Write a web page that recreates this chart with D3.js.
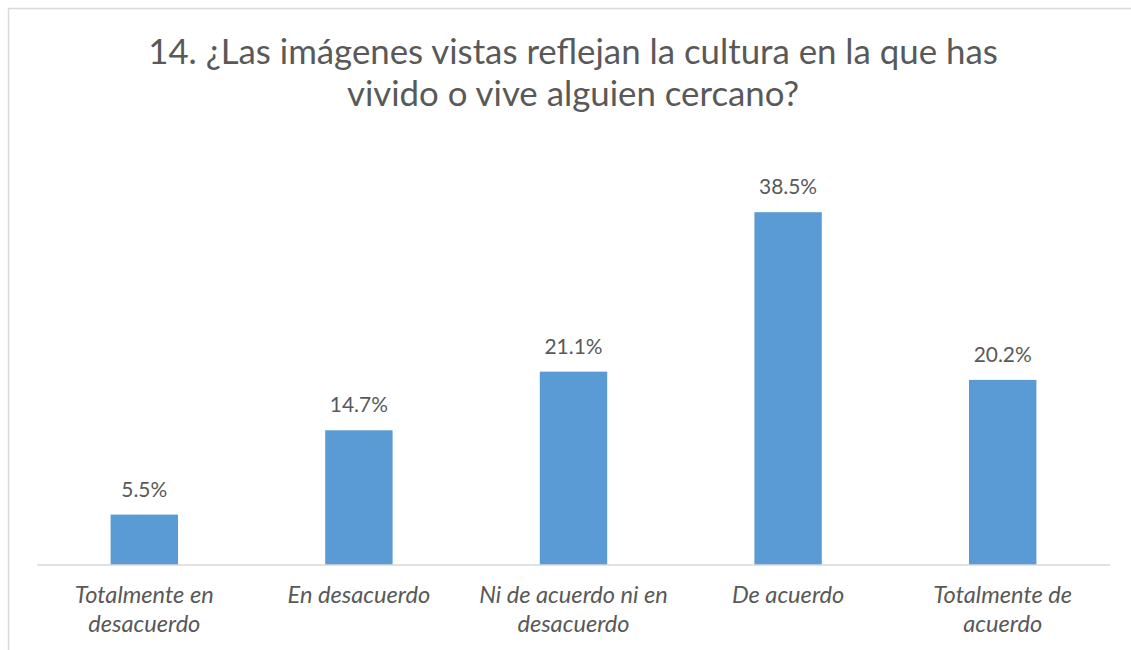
<!DOCTYPE html>
<html>
<head>
<meta charset="utf-8">
<script src="https://cdn.jsdelivr.net/npm/d3@7"></script>
<style>
  body { margin: 0; background: #fff; }
  #chart { width: 1131px; height: 650px; }
</style>
</head>
<body>
<div id="chart"></div>
<script>
const categories = [
  ["Totalmente en", "desacuerdo"],
  ["En desacuerdo"],
  ["Ni de acuerdo ni en", "desacuerdo"],
  ["De acuerdo"],
  ["Totalmente de", "acuerdo"]
];
const values = [5.5, 14.7, 21.1, 38.5, 20.2];
const titleLines = [
  "14. ¿Las imágenes vistas reflejan la cultura en la que has",
  "vivido o vive alguien cercano?"
];

const width = 1131;
const height = 650;
const textColor = "#595959";
const font = "Lato, 'Open Sans', sans-serif";

const svg = d3
  .select("#chart")
  .append("svg")
  .attr("width", width)
  .attr("height", height);

// chart border (only top and left visible in the crop)
svg
  .append("rect")
  .attr("x", 8.5)
  .attr("y", 8.5)
  .attr("width", width + 10)
  .attr("height", height + 10)
  .attr("fill", "#fff")
  .attr("stroke", "#d9d9d9")
  .attr("stroke-width", 1.5);

// fit a text element to a target width
function fitWidth(sel, target) {
  const w = sel.node().getComputedTextLength();
  const size = parseFloat(sel.attr("font-size"));
  sel.attr("font-size", (size * target) / w);
  return (size * target) / w;
}

// title
const title = svg
  .append("text")
  .attr("text-anchor", "middle")
  .attr("fill", textColor)
  .attr("font-family", font)
  .attr("font-size", 34);
titleLines.forEach((t, i) => {
  title
    .append("tspan")
    .attr("x", 573)
    .attr("y", 64 + i * 42)
    .text(t);
});
{
  const first = title.select("tspan").node().getComputedTextLength();
  title.attr("font-size", (34 * 850) / first);
}

const x = d3
  .scaleBand()
  .domain(d3.range(categories.length))
  .range([37, 1110])
  .paddingInner(0.686)
  .paddingOuter(0.343);

const y = d3.scaleLinear().domain([0, 45]).range([565, 152.6]);

// bars
svg
  .append("g")
  .selectAll("rect")
  .data(values)
  .enter()
  .append("rect")
  .attr("x", (d, i) => x(i))
  .attr("y", (d) => y(d))
  .attr("width", x.bandwidth())
  .attr("height", (d) => y(0) - y(d))
  .attr("fill", "#5b9bd5");

// axis line
svg
  .append("line")
  .attr("x1", 37)
  .attr("x2", 1110)
  .attr("y1", y(0))
  .attr("y2", y(0))
  .attr("stroke", "#d9d9d9")
  .attr("stroke-width", 1.5);

// value labels
const labels = svg
  .append("g")
  .selectAll("text")
  .data(values)
  .enter()
  .append("text")
  .attr("x", (d, i) => x(i) + x.bandwidth() / 2)
  .attr("y", (d) => y(d) - 18)
  .attr("text-anchor", "middle")
  .attr("fill", textColor)
  .attr("font-family", font)
  .attr("font-size", 20)
  .text((d) => d.toFixed(1) + "%");
const valSize = fitWidth(d3.select(labels.nodes()[0]), 46);
labels.attr("font-size", valSize);

// category labels
const cats = svg
  .append("g")
  .selectAll("text")
  .data(categories)
  .enter()
  .append("text")
  .attr("text-anchor", "middle")
  .attr("fill", textColor)
  .attr("font-family", font)
  .attr("font-style", "italic")
  .attr("font-size", 20);
cats.each(function (lines, i) {
  lines.forEach((t, j) => {
    d3.select(this)
      .append("tspan")
      .attr("x", x(i) + x.bandwidth() / 2)
      .attr("y", 603 + j * 29)
      .text(t);
  });
});
{
  const n = cats.nodes()[0].querySelector("tspan");
  const w = n.getComputedTextLength();
  cats.attr("font-size", (20 * 139) / w);
}
</script>
</body>
</html>
